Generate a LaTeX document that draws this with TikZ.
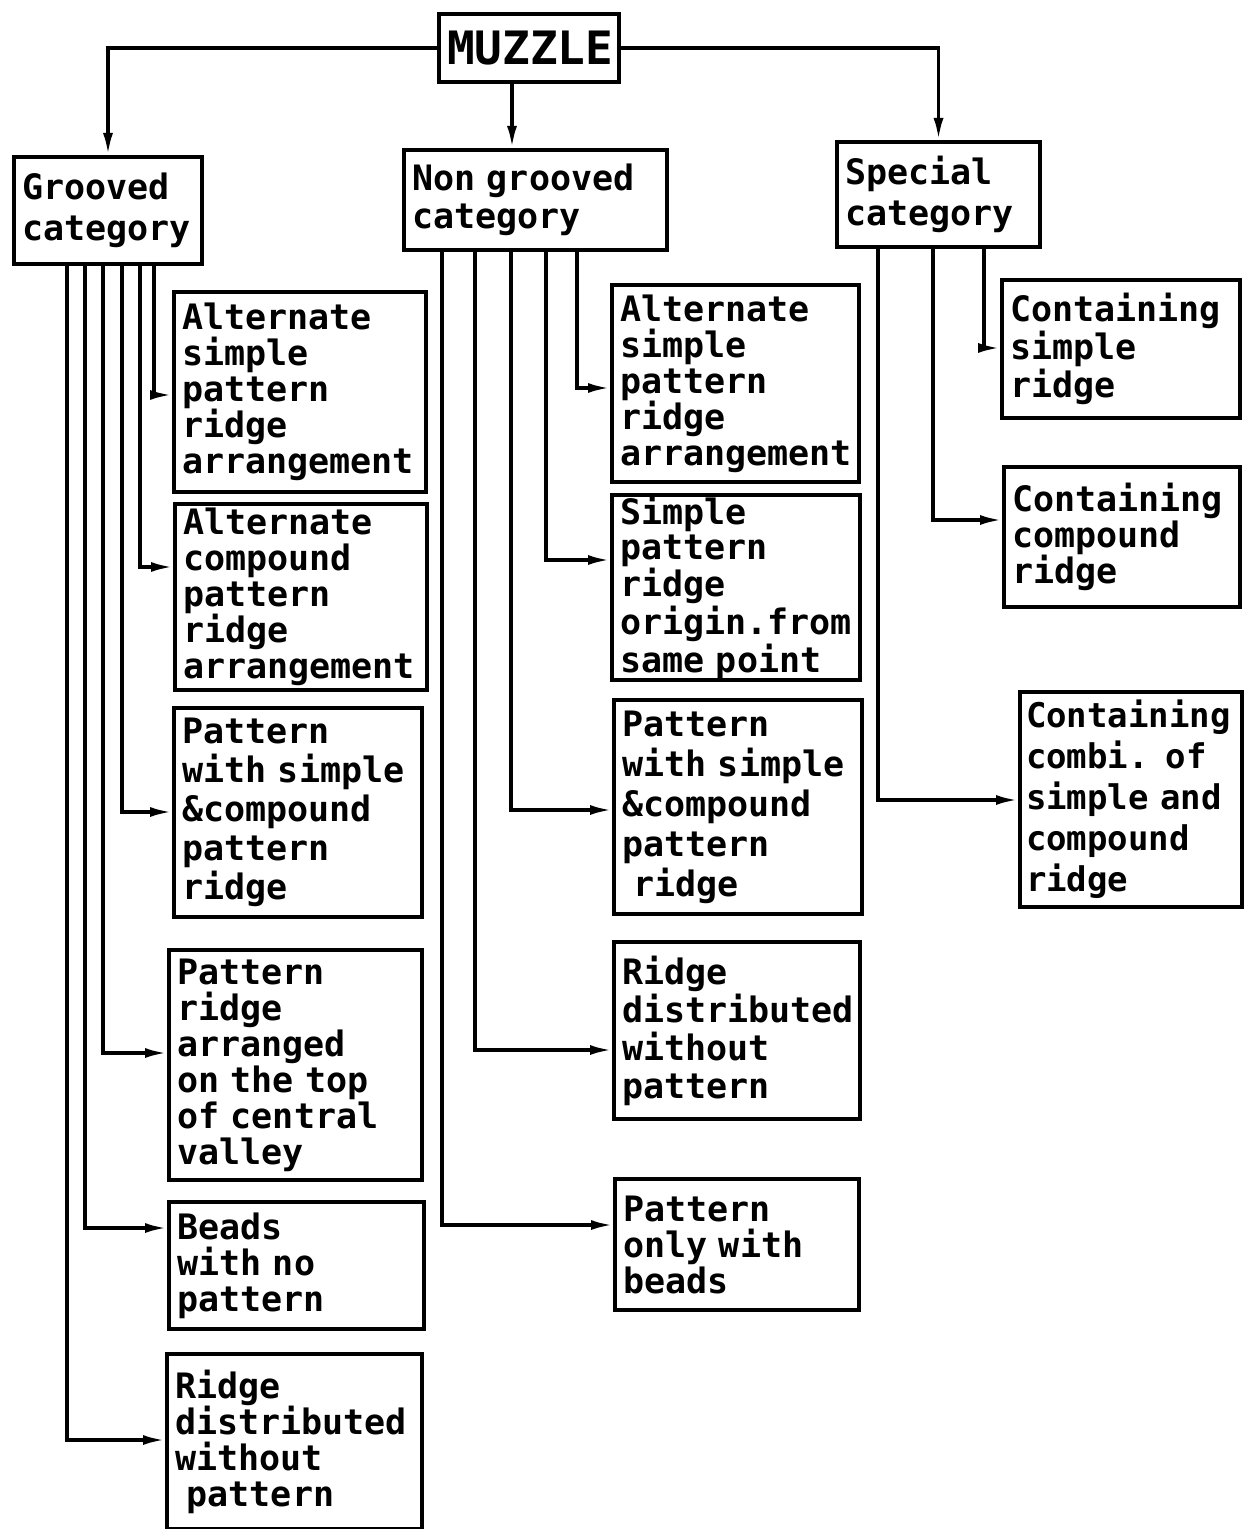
\documentclass[tikz,border=0pt]{standalone}
\usepackage{fontspec}
\newfontfamily\boxfont{DejaVu Sans Mono Bold}
\usetikzlibrary{arrows.meta}
\begin{document}
\begin{tikzpicture}[x=0.5pt,y=-0.5pt,
  bx/.style={draw, line width=2pt, anchor=north west, align=left,
    inner xsep=4pt, inner ysep=0pt, font=\fontsize{17.5}{18}\boxfont},
  hd/.style={bx, font=\fontsize{17.5}{20.5}\boxfont},
  arr/.style={line width=1.7pt, -{Latex[length=11pt,width=5pt]}}]
\useasboundingbox (0,0) rectangle (1248,1529);

% top and categories
\node[bx, anchor=north west, align=center, text width=82pt, minimum height=34pt,
  font=\fontsize{23}{24}\boxfont] (muzzle) at (437,12) {MUZZLE};
\node[hd, text width=86pt, minimum height=53.5pt] (groov) at (12,155) {Grooved\\category};
\node[hd, text width=123.5pt, minimum height=50pt, font=\fontsize{17.5}{19}\boxfont] (nong) at (402,148) {Non grooved\\category};
\node[hd, text width=93.5pt, minimum height=52.5pt] (spec) at (835,140) {Special\\category};

% grooved children
\node[bx, text width=118pt, minimum height=100pt] (g1) at (172,290) {Alternate\\simple\\pattern\\ridge\\arrangement};
\node[bx, text width=118pt, minimum height=93pt] (g2) at (173,502) {Alternate\\compound\\pattern\\ridge\\arrangement};
\node[bx, text width=116pt, minimum height=104.5pt, font=\fontsize{17.5}{19.5}\boxfont] (g3) at (172,706) {Pattern\\with simple\\\&compound\\pattern\\ridge};
\node[bx, text width=118.5pt, minimum height=115pt] (g4) at (167,948) {Pattern\\ridge\\arranged\\on the top\\of central\\valley};
\node[bx, text width=119.5pt, minimum height=63.5pt] (g5) at (167,1200) {Beads\\with no\\pattern};
\node[bx, text width=119.5pt, minimum height=87.5pt] (g6) at (165,1352) {Ridge\\distributed\\without\\\ pattern};

% non grooved children
\node[bx, text width=115.5pt, minimum height=98.5pt] (n1) at (610,283) {Alternate\\simple\\pattern\\ridge\\arrangement};
\node[bx, text width=116pt, minimum height=92.5pt, font=\fontsize{17.5}{17.5}\boxfont] (n2) at (610,493) {Simple\\pattern\\ridge\\origin.from\\same point};
\node[bx, text width=116pt, minimum height=107pt, font=\fontsize{17.5}{20}\boxfont] (n3) at (612,698) {Pattern\\with simple\\\&compound\\pattern\\\ ridge};
\node[bx, text width=115pt, minimum height=88.5pt, font=\fontsize{17.5}{19}\boxfont] (n4) at (612,940) {Ridge\\distributed\\without\\pattern};
\node[bx, text width=114pt, minimum height=65.5pt] (n5) at (613,1177) {Pattern\\only with\\beads};

% special children
\node[bx, text width=111pt, minimum height=69pt, font=\fontsize{17.5}{19}\boxfont] (s1) at (1000,278) {Containing\\simple\\ridge\\[8pt]};
\node[bx, text width=110pt, minimum height=70pt] (s2) at (1002,465) {Containing\\compound\\ridge};
\node[bx, text width=105pt, inner xsep=3pt, minimum height=107.5pt, font=\fontsize{17}{20.5}\boxfont] (s3) at (1018,690) {Containing\\combi. of\\simple and\\compound\\ridge};

% connectors from MUZZLE
\draw[arr] (muzzle.west) -| (groov.north);
\draw[arr] (muzzle.east) -| (spec.north);
\draw[arr] (512,0 |- muzzle.south) -- (512,0 |- nong.north);

% grooved connectors
\foreach \xx/\tt/\yy in {154/g1/395, 140/g2/567, 122/g3/812, 103/g4/1053, 85/g5/1228, 67/g6/1440}
  \draw[arr] (\xx,0 |- groov.south) |- (\tt.west |- 0,\yy);

% non grooved connectors
\foreach \xx/\tt/\yy in {577/n1/388, 546/n2/560, 511/n3/810, 475/n4/1050, 442/n5/1225}
  \draw[arr] (\xx,0 |- nong.south) |- (\tt.west |- 0,\yy);

% special connectors
\foreach \xx/\tt/\yy in {984/s1/348, 933/s2/520, 878/s3/800}
  \draw[arr] (\xx,0 |- spec.south) |- (\tt.west |- 0,\yy);
\end{tikzpicture}
\end{document}
